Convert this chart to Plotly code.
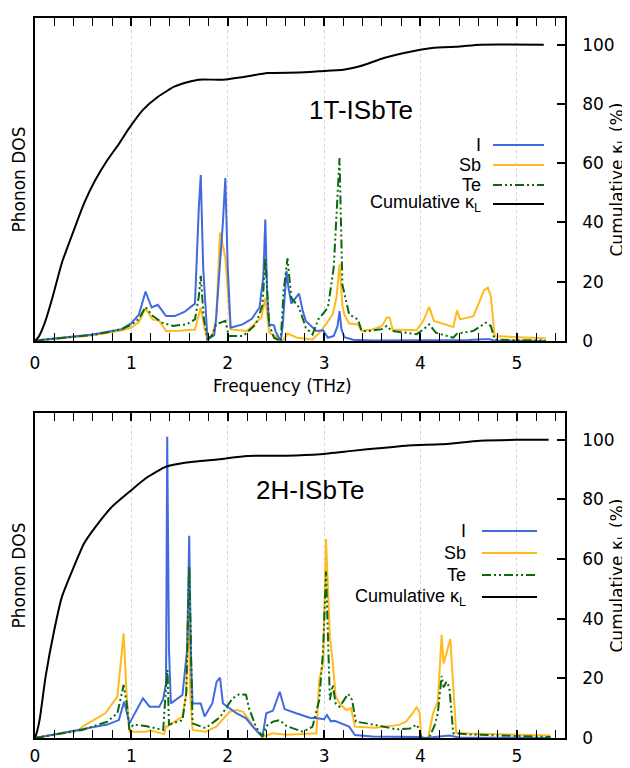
import plotly.graph_objects as go

# ---------------- 1T-ISbTe (top panel) ----------------
t_I_x = [0, 0.05, 0.3, 0.6, 0.9, 1.0, 1.08, 1.147, 1.21, 1.275, 1.36, 1.45, 1.55, 1.66, 1.70, 1.72, 1.745, 1.79,
         1.86, 1.88, 1.95, 1.975, 2.0, 2.03, 2.155, 2.25, 2.33, 2.37, 2.39, 2.41, 2.43, 2.48, 2.50, 2.55,
         2.57, 2.59, 2.61, 2.63, 2.66, 2.74, 2.78, 2.81, 2.92, 2.99, 3.04, 3.1, 3.14, 3.16, 3.18, 3.21, 3.3,
         3.5, 4.0, 4.5, 4.65, 4.72, 4.77, 5.0, 5.3]
t_I_y = [0, 0.3, 1.2, 2.2, 4.0, 6.0, 9.0, 16.7, 11.3, 12.2, 8.4, 8.4, 9.8, 12.6, 45, 56, 25, 0.5,
         2.0, 7.9, 40, 55, 25, 4.5, 5.6, 7.5, 11.3, 22, 41, 15, 5.6, 5.3, 3.0, 0,
         5.0, 14.6, 23.6, 18, 12.6, 16, 10, 6.8, 3.4, 3.6, 1.1, 1.7, 5.0, 10.1, 4.0, 1.3, 0.4,
         0.2, 0.2, 0.3, 0.6, 0.6, 0.1, 0.1, 0]

t_Sb_x = [0, 0.05, 0.3, 0.6, 0.9, 1.0, 1.08, 1.147, 1.22, 1.29, 1.36, 1.5, 1.66, 1.72, 1.76, 1.79, 1.84, 1.88,
          1.92, 1.975, 2.03, 2.2, 2.35, 2.39, 2.43, 2.52, 2.55, 2.58, 2.62, 2.72, 2.88, 2.97, 3.09, 3.13,
          3.16, 3.19, 3.21, 3.26, 3.35, 3.39, 3.5, 3.6, 3.65, 3.68, 3.71, 3.96, 4.03, 4.09, 4.14, 4.34,
          4.38, 4.41, 4.55, 4.66, 4.70, 4.73, 4.77, 5.0, 5.3]
t_Sb_y = [0, 0.2, 1.0, 1.9, 3.5, 4.5, 6.5, 11.0, 7.3, 6.8, 3.4, 3.5, 3.9, 11.3, 4.0, 0.5, 2.0, 6.8,
          36.6, 28.2, 3.9, 3.4, 7.9, 14.6, 2.8, 1.1, 0, 0.5, 2.5, 1.1, 0.5, 3.4, 9.0, 15,
          25.9, 12, 9.0, 5.9, 5.6, 3.4, 3.9, 5.0, 7.9, 7.9, 3.9, 3.6, 6.8, 11.5, 6.8, 4.7,
          10.4, 7.3, 8.4, 17.1, 18, 15.2, 1.7, 1.3, 0.9]

t_Te_x = [0, 0.05, 0.3, 0.6, 0.9, 1.0, 1.08, 1.147, 1.22, 1.32, 1.43, 1.57, 1.66, 1.70, 1.72, 1.75, 1.79, 1.84,
          1.88, 1.975, 2.01, 2.16, 2.29, 2.36, 2.39, 2.43, 2.48, 2.55, 2.58, 2.62, 2.66, 2.74, 2.81, 2.88,
          2.94, 3.04, 3.1, 3.14, 3.16, 3.19, 3.26, 3.35, 3.39, 3.47, 3.6, 3.65, 3.70, 3.96, 4.03, 4.09,
          4.16, 4.34, 4.38, 4.55, 4.68, 4.73, 4.77, 5.0, 5.3]
t_Te_y = [0, 0.25, 1.1, 2.0, 4.0, 5.5, 7.5, 11.5, 8.5, 6.2, 5.1, 5.6, 7.3, 15, 22, 8.0, 0.5, 2.0,
          5.6, 6.8, 1.7, 1.7, 5.6, 12, 27.9, 5.6, 1.1, 0, 16.9, 27.9, 14.6, 11.3, 4.5, 2.2,
          7.3, 11.3, 24.8, 50, 61.7, 19, 9.0, 7.3, 3.4, 3.4, 4.0, 5.1, 3.4, 2.3, 3.9, 5.6,
          2.8, 1.1, 2.5, 3.4, 6.2, 5.1, 0.5, 0.3, 0.2]

t_cum_x = [0, 0.04, 0.1, 0.18, 0.28, 0.41, 0.51, 0.62, 0.74, 0.87, 0.97, 1.12, 1.28, 1.45, 1.6, 1.70, 1.95,
           2.2, 2.41, 2.74, 2.95, 3.2, 3.37, 3.62, 3.83, 4.12, 4.41, 4.62, 5.28]
t_cum_y = [0, 1.5, 6.0, 14.5, 26.5, 38.0, 46.5, 54.0, 60.5, 66.5, 71.5, 78.0, 82.5, 85.9, 87.5, 88.2, 88.2,
           89.3, 90.4, 90.6, 91.0, 91.5, 92.7, 95.5, 97.2, 98.9, 99.4, 100, 100]

# ---------------- 2H-ISbTe (bottom panel) ----------------
b_I_x = [0, 0.05, 0.49, 0.75, 0.87, 0.925, 0.98, 1.05, 1.12, 1.19, 1.29, 1.33, 1.36, 1.372, 1.39, 1.41,
         1.53, 1.58, 1.60, 1.62, 1.635, 1.72, 1.76, 1.84, 1.885, 1.92, 1.95, 2.09, 2.19, 2.26, 2.36,
         2.40, 2.47, 2.54, 2.59, 2.71, 2.85, 2.93, 3.0, 3.03, 3.07, 3.11, 3.19, 3.26, 3.32, 3.5, 4.0,
         4.05, 4.2, 4.3, 4.4, 5.0, 5.35]
b_I_y = [0, 0.3, 2.7, 4.5, 6.0, 12.2, 4.9, 9.0, 13.3, 10.5, 10.5, 13, 18.3, 101, 30, 11.6,
         14.4, 30, 67.8, 25, 11.6, 11.6, 7.2, 11.6, 18.9, 20.2, 11.6, 8.3, 6.6, 3.8, 0.4,
         8.3, 9.2, 15.5, 9.7, 8.3, 6.8, 6.6, 6.3, 7.7, 5.6, 5.8, 4.7, 3.8, 1.0, 0.5, 0.3,
         0, 0.5, 0.8, 0.2, 0.1, 0]

b_Sb_x = [0, 0.05, 0.45, 0.5, 0.73, 0.855, 0.92, 0.95, 0.98, 1.15, 1.19, 1.34, 1.36, 1.375, 1.41, 1.53,
          1.57, 1.59, 1.61, 1.635, 1.77, 1.88, 1.91, 2.02, 2.09, 2.16, 2.22, 2.29, 2.36, 2.47, 2.61,
          2.85, 2.92, 2.95, 2.99, 3.02, 3.06, 3.09, 3.12, 3.16, 3.23, 3.28, 3.32, 3.53, 3.78, 3.85,
          3.92, 3.96, 3.99, 4.01, 4.08, 4.13, 4.18, 4.22, 4.24, 4.31, 4.37, 4.5, 5.35]
b_Sb_y = [0, 0.3, 2.5, 4.0, 8.3, 13.9, 35.1, 15, 2.1, 2.1, 2.6, 1.3, 4.0, 3.8, 4.7, 7.2,
          15, 50, 15, 2.7, 2.1, 3.8, 4.9, 8.8, 9.4, 8.8, 6.0, 2.7, 0.4, 1.6, 1.1,
          1.3, 1.6, 19.5, 25, 66.7, 34, 25.3, 14, 11.6, 9.4, 10, 3.8, 3.4, 4.4, 5.5,
          8.3, 10.3, 8.7, 0, 0, 8.3, 12.2, 34.6, 25, 33.2, 1.8, 1.5, 0.8]

b_Te_x = [0, 0.05, 0.49, 0.75, 0.855, 0.92, 0.95, 0.98, 1.02, 1.15, 1.33, 1.36, 1.375, 1.39, 1.53, 1.57,
          1.60, 1.635, 1.77, 1.88, 1.92, 2.05, 2.12, 2.19, 2.22, 2.29, 2.36, 2.40, 2.47, 2.54, 2.61,
          2.78, 2.88, 2.95, 2.99, 3.02, 3.06, 3.09, 3.12, 3.16, 3.25, 3.29, 3.33, 3.53, 3.75, 3.89,
          3.96, 3.99, 4.01, 4.09, 4.15, 4.18, 4.22, 4.24, 4.27, 4.30, 4.34, 4.5, 5.35]
b_Te_y = [0, 0.3, 2.7, 5.5, 8.3, 17.8, 12, 2.7, 4.5, 4.0, 2.7, 17, 22.8, 4.5, 6.0, 15,
          57.5, 4.9, 3.3, 6.0, 7.0, 13.3, 14.7, 14.5, 10, 4.0, 0.4, 4.0, 5.5, 6.0, 4.0,
          2.1, 3.8, 12.8, 29.5, 55.8, 12.8, 17.8, 11.6, 10.5, 14.8, 12.8, 5.5, 4.4, 2.9, 3.2,
          4.5, 2.7, 0, 0, 4.5, 8.3, 20.8, 17, 18.9, 17, 1.6, 1.2, 0.3]

b_cum_x = [0, 0.02, 0.05, 0.11, 0.2, 0.28, 0.39, 0.51, 0.63, 0.80, 0.98, 1.15, 1.36, 1.57, 1.91, 2.2,
           2.6, 2.96, 3.29, 3.6, 3.92, 4.21, 4.62, 5.0, 5.33]
b_cum_y = [0, 2.0, 6.5, 20.6, 36.2, 47.4, 56.4, 65.3, 70.9, 77.6, 82.6, 87.1, 91.0, 92.4, 93.5, 94.6,
           94.7, 95.2, 96.3, 97.3, 98.2, 98.5, 99.7, 100, 100]

panel_titles = ["1T-ISbTe", "2H-ISbTe"]
legend_labels = ["I", "Sb", "Te", "Cumulative κ<sub>L</sub>"]
right_ticks = [0, 20, 40, 60, 80, 100]
x_ticks = [0, 1, 2, 3, 4, 5]

C_I = "#4169E1"
C_SB = "#FFBA1E"
C_TE = "#0A6A0A"
C_CUM = "black"
TE_DASH = "9px,3px,2px,3px,2px,3px"

# the page body has an 8px margin, so the figure starts 8px in from the window corner
OFF = 8
W, H = 630 - OFF, 768 - OFF
ML, MR, MT = 35 - OFF, 65, 18 - OFF
MB = H - MT - 720
PW, PH = W - ML - MR, H - MT - MB


def px2paper(px, py):
    # px, py are window coordinates
    return (px - 35) / PW, (738 - py) / PH


fig = go.Figure()

panels = [
    dict(I=(t_I_x, t_I_y), Sb=(t_Sb_x, t_Sb_y), Te=(t_Te_x, t_Te_y), cum=(t_cum_x, t_cum_y), xa="x", ya="y", ya2="y2"),
    dict(I=(b_I_x, b_I_y), Sb=(b_Sb_x, b_Sb_y), Te=(b_Te_x, b_Te_y), cum=(b_cum_x, b_cum_y), xa="x2", ya="y3", ya2="y4"),
]
for p in panels:
    for key, col, dash in [("Sb", C_SB, "solid"), ("I", C_I, "solid"), ("Te", C_TE, TE_DASH)]:
        xs, ys = p[key]
        fig.add_trace(go.Scatter(x=xs, y=ys, mode="lines", name=key,
                                 line=dict(color=col, width=2, dash=dash),
                                 xaxis=p["xa"], yaxis=p["ya"], showlegend=False))
    xs, ys = p["cum"]
    fig.add_trace(go.Scatter(x=xs, y=ys, mode="lines", name="Cumulative",
                             line=dict(color=C_CUM, width=2, shape="spline", smoothing=0.5),
                             xaxis=p["xa"], yaxis=p["ya2"], showlegend=False))

tickfont = dict(family="DejaVu Sans", size=17, color="black")
xcommon = dict(range=[0, 5.5], showline=True, linecolor="black", linewidth=1.5, mirror="allticks",
               ticks="inside", ticklen=8, tickwidth=1.5, tickcolor="black",
               tickvals=x_ticks, ticktext=[str(v) for v in x_ticks],
               minor=dict(dtick=0.2, tick0=0, ticks="inside", ticklen=4, tickwidth=1, tickcolor="black"),
               showgrid=True, gridcolor="#d4d4d4", griddash="dot", gridwidth=1, zeroline=False,
               tickfont=tickfont, automargin=False)
yleft = dict(range=[0, 109], showline=True, linecolor="black", linewidth=1.5, ticks="",
             showticklabels=False, showgrid=False, zeroline=False, automargin=False)
yright = dict(range=[0, 109], showline=True, linecolor="black", linewidth=1.5, side="right",
              ticks="inside", ticklen=8, tickwidth=1.5, tickcolor="black",
              tickvals=right_ticks, ticktext=[str(v) for v in right_ticks],
              showgrid=False, zeroline=False, tickfont=tickfont, ticklabelstandoff=12, automargin=False)

top_dom = [px2paper(0, 341)[1], 1.0]
bot_dom = [0.0, px2paper(0, 413)[1]]

fig.update_layout(
    template="none",
    width=W, height=H, margin=dict(l=ML, r=MR, t=MT, b=MB, pad=0, autoexpand=False),
    paper_bgcolor="white", plot_bgcolor="white", showlegend=False,
    xaxis=dict(**xcommon, anchor="y", domain=[0, 1], ticklabelstandoff=6),
    yaxis=dict(**yleft, domain=top_dom, anchor="x"),
    yaxis2=dict(**yright, overlaying="y", anchor="x"),
    xaxis2=dict(**xcommon, anchor="y3", domain=[0, 1], ticklabelstandoff=2),
    yaxis3=dict(**yleft, domain=bot_dom, anchor="x2"),
    yaxis4=dict(**yright, overlaying="y3", anchor="x2"),
)

ann = []
shapes = []
labfont = dict(family="DejaVu Sans", size=17, color="black")
for (ytop, ybot) in [(18, 341), (413, 738)]:
    cy = (ytop + ybot) / 2
    x0, y0 = px2paper(18, cy)
    ann.append(dict(text="Phonon DOS", x=x0, y=y0, xref="paper", yref="paper", textangle=-90,
                    showarrow=False, font=labfont, xanchor="center", yanchor="middle"))
    x1, y1 = px2paper(618, cy)
    ann.append(dict(text="Cumulative κ<sub>L</sub> (%)", x=x1, y=y1, xref="paper", yref="paper",
                    textangle=-90, showarrow=False, font=labfont, xanchor="center", yanchor="middle"))
xf, yf = px2paper(282, 386)
ann.append(dict(text="Frequency (THz)", x=xf, y=yf, xref="paper", yref="paper", showarrow=False,
                font=labfont, xanchor="center", yanchor="middle"))

for title, (tx, ty) in zip(panel_titles, [(361, 110), (310, 490)]):
    ax_, ay_ = px2paper(tx, ty)
    ann.append(dict(text=title, x=ax_, y=ay_, xref="paper", yref="paper", showarrow=False,
                    font=dict(family="Liberation Sans", size=26, color="black"),
                    xanchor="center", yanchor="middle"))

legend_specs = [
    dict(text_right=483, line_x=(493, 544), ys=[145, 165, 185, 204]),
    dict(text_right=468, line_x=(482, 537), ys=[531, 553, 575, 597]),
]
styles = [(C_I, "solid"), (C_SB, "solid"), (C_TE, TE_DASH), (C_CUM, "solid")]
for spec in legend_specs:
    for lab, (col, dash), ly in zip(legend_labels, styles, spec["ys"]):
        tx, ty = px2paper(spec["text_right"], ly)
        ann.append(dict(text=lab, x=tx, y=ty, xref="paper", yref="paper", showarrow=False,
                        font=dict(family="Liberation Sans", size=18, color="black"),
                        xanchor="right", yanchor="middle"))
        lx0, ly0 = px2paper(spec["line_x"][0], ly)
        lx1, _ = px2paper(spec["line_x"][1], ly)
        shapes.append(dict(type="line", xref="paper", yref="paper", x0=lx0, x1=lx1, y0=ly0, y1=ly0,
                           line=dict(color=col, width=2, dash=dash)))

fig.update_layout(annotations=ann, shapes=shapes)
fig.write_html("out.html")
